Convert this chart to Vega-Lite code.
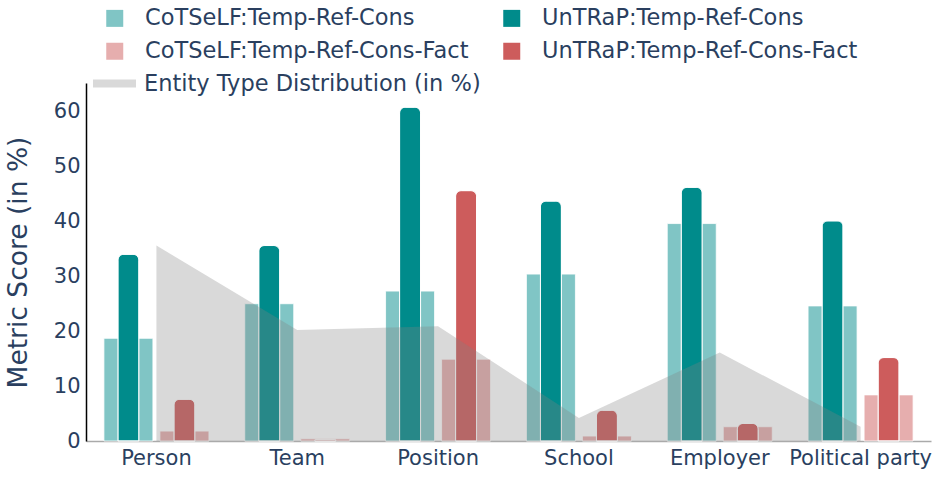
{
  "$schema": "https://vega.github.io/schema/vega-lite/v6.json",
  "width": 845,
  "height": 358,
  "autosize": "none",
  "padding": {"left": 86, "top": 83, "right": 16, "bottom": 36},
  "config": {
    "font": "DejaVu Sans",
    "view": {"stroke": null},
    "axis": {"labelColor": "#2a3f5f", "titleColor": "#2a3f5f", "grid": false, "ticks": false},
    "legend": {"labelColor": "#2a3f5f", "padding": 0}
  },
  "datasets": {
    "bars": [
      {"entity": "Person", "model": "CoTSeLF", "metric": "Temp-Ref-Cons", "series": "CoTSeLF:Temp-Ref-Cons", "score": 18.7},
      {"entity": "Person", "model": "UnTRaP", "metric": "Temp-Ref-Cons", "series": "UnTRaP:Temp-Ref-Cons", "score": 34.0},
      {"entity": "Person", "model": "CoTSeLF", "metric": "Temp-Ref-Cons-Fact", "series": "CoTSeLF:Temp-Ref-Cons-Fact", "score": 1.8},
      {"entity": "Person", "model": "UnTRaP", "metric": "Temp-Ref-Cons-Fact", "series": "UnTRaP:Temp-Ref-Cons-Fact", "score": 7.6},
      {"entity": "Team", "model": "CoTSeLF", "metric": "Temp-Ref-Cons", "series": "CoTSeLF:Temp-Ref-Cons", "score": 25.0},
      {"entity": "Team", "model": "UnTRaP", "metric": "Temp-Ref-Cons", "series": "UnTRaP:Temp-Ref-Cons", "score": 35.6},
      {"entity": "Team", "model": "CoTSeLF", "metric": "Temp-Ref-Cons-Fact", "series": "CoTSeLF:Temp-Ref-Cons-Fact", "score": 0.4},
      {"entity": "Team", "model": "UnTRaP", "metric": "Temp-Ref-Cons-Fact", "series": "UnTRaP:Temp-Ref-Cons-Fact", "score": 0.3},
      {"entity": "Position", "model": "CoTSeLF", "metric": "Temp-Ref-Cons", "series": "CoTSeLF:Temp-Ref-Cons", "score": 27.3},
      {"entity": "Position", "model": "UnTRaP", "metric": "Temp-Ref-Cons", "series": "UnTRaP:Temp-Ref-Cons", "score": 60.8},
      {"entity": "Position", "model": "CoTSeLF", "metric": "Temp-Ref-Cons-Fact", "series": "CoTSeLF:Temp-Ref-Cons-Fact", "score": 14.9},
      {"entity": "Position", "model": "UnTRaP", "metric": "Temp-Ref-Cons-Fact", "series": "UnTRaP:Temp-Ref-Cons-Fact", "score": 45.6},
      {"entity": "School", "model": "CoTSeLF", "metric": "Temp-Ref-Cons", "series": "CoTSeLF:Temp-Ref-Cons", "score": 30.4},
      {"entity": "School", "model": "UnTRaP", "metric": "Temp-Ref-Cons", "series": "UnTRaP:Temp-Ref-Cons", "score": 43.7},
      {"entity": "School", "model": "CoTSeLF", "metric": "Temp-Ref-Cons-Fact", "series": "CoTSeLF:Temp-Ref-Cons-Fact", "score": 0.9},
      {"entity": "School", "model": "UnTRaP", "metric": "Temp-Ref-Cons-Fact", "series": "UnTRaP:Temp-Ref-Cons-Fact", "score": 5.6},
      {"entity": "Employer", "model": "CoTSeLF", "metric": "Temp-Ref-Cons", "series": "CoTSeLF:Temp-Ref-Cons", "score": 39.6},
      {"entity": "Employer", "model": "UnTRaP", "metric": "Temp-Ref-Cons", "series": "UnTRaP:Temp-Ref-Cons", "score": 46.2},
      {"entity": "Employer", "model": "CoTSeLF", "metric": "Temp-Ref-Cons-Fact", "series": "CoTSeLF:Temp-Ref-Cons-Fact", "score": 2.6},
      {"entity": "Employer", "model": "UnTRaP", "metric": "Temp-Ref-Cons-Fact", "series": "UnTRaP:Temp-Ref-Cons-Fact", "score": 3.2},
      {"entity": "Political party", "model": "CoTSeLF", "metric": "Temp-Ref-Cons", "series": "CoTSeLF:Temp-Ref-Cons", "score": 24.6},
      {"entity": "Political party", "model": "UnTRaP", "metric": "Temp-Ref-Cons", "series": "UnTRaP:Temp-Ref-Cons", "score": 40.1},
      {"entity": "Political party", "model": "CoTSeLF", "metric": "Temp-Ref-Cons-Fact", "series": "CoTSeLF:Temp-Ref-Cons-Fact", "score": 8.4},
      {"entity": "Political party", "model": "UnTRaP", "metric": "Temp-Ref-Cons-Fact", "series": "UnTRaP:Temp-Ref-Cons-Fact", "score": 15.2}
    ],
    "dist": [
      {"entity": "Person", "label": "Entity Type Distribution (in %)", "pct": 35.6},
      {"entity": "Team", "label": "Entity Type Distribution (in %)", "pct": 20.2},
      {"entity": "Position", "label": "Entity Type Distribution (in %)", "pct": 20.9},
      {"entity": "School", "label": "Entity Type Distribution (in %)", "pct": 4.2},
      {"entity": "Employer", "label": "Entity Type Distribution (in %)", "pct": 16.1},
      {"entity": "Political party", "label": "Entity Type Distribution (in %)", "pct": 2.6}
    ]
  },
  "encoding": {
    "x": {
      "field": "entity", "type": "nominal",
      "sort": ["Person", "Team", "Position", "School", "Employer", "Political party"],
      "scale": {"paddingInner": 0, "paddingOuter": 0},
      "axis": {"title": null, "labelAngle": 0, "labelFontSize": 21, "labelPadding": 6, "domainColor": "#aaaaaa", "domainWidth": 1.5}
    }
  },
  "layer": [
    {
      "data": {"name": "bars"},
      "transform": [{"filter": "datum.model === 'CoTSeLF'"}],
      "mark": {"type": "bar", "width": 49, "stroke": "white", "strokeWidth": 0.8},
      "encoding": {
        "xOffset": {"field": "metric", "type": "nominal", "sort": ["Temp-Ref-Cons", "Temp-Ref-Cons-Fact"], "scale": {"paddingInner": 0, "paddingOuter": 0.257}},
        "y": {
          "field": "score", "type": "quantitative",
          "scale": {"domain": [0, 65.2], "nice": false},
          "axis": {"title": "Metric Score (in %)", "titleFontSize": 26.5, "titleFontWeight": "normal", "titlePadding": 21, "labelFontSize": 21, "labelPadding": 6, "values": [0, 10, 20, 30, 40, 50, 60], "domainColor": "#000000", "domainWidth": 1.5}
        },
        "color": {
          "field": "series", "type": "nominal",
          "scale": {
            "domain": ["CoTSeLF:Temp-Ref-Cons", "CoTSeLF:Temp-Ref-Cons-Fact", "UnTRaP:Temp-Ref-Cons", "UnTRaP:Temp-Ref-Cons-Fact"],
            "range": ["#80c5c5", "#e6aeae", "#008b8b", "#cd5c5c"]
          },
          "legend": {
            "title": null, "orient": "none", "legendX": 17.5, "legendY": -76, "columns": 2,
            "columnPadding": 32, "rowPadding": 10, "labelFontSize": 22.5, "labelOffset": 19,
            "symbolType": "square", "symbolSize": 289, "symbolStrokeWidth": 0, "symbolOpacity": 1,
            "labelLimit": 500,
            "encode": {"symbols": {"update": {"shape": {"signal": "indexof(datum.value, 'UnTRaP') === 0 ? 'M-1,-0.6Q-1,-1,-0.6,-1H0.6Q1,-1,1,-0.6V0.6Q1,1,0.6,1H-0.6Q-1,1,-1,0.6Z' : 'square'"}}}}
          }
        }
      }
    },
    {
      "data": {"name": "bars"},
      "transform": [{"filter": "datum.model === 'UnTRaP'"}],
      "mark": {"type": "bar", "width": 21, "stroke": "white", "strokeWidth": 1, "cornerRadiusTopLeft": 6, "cornerRadiusTopRight": 6},
      "encoding": {
        "xOffset": {"field": "metric", "type": "nominal", "sort": ["Temp-Ref-Cons", "Temp-Ref-Cons-Fact"], "scale": {"paddingInner": 0, "paddingOuter": 0.257}},
        "y": {"field": "score", "type": "quantitative"},
        "color": {"field": "series", "type": "nominal"}
      }
    },
    {
      "data": {"name": "dist"},
      "mark": {"type": "area", "color": "#808080", "opacity": 0.3},
      "encoding": {
        "y": {"field": "pct", "type": "quantitative"},
        "fill": {
          "field": "label", "type": "nominal",
          "scale": {"range": ["#808080"]},
          "legend": {
            "title": null, "orient": "none", "legendX": 7, "legendY": -21, "labelFontSize": 22.5, "labelOffset": 8,
            "symbolType": "M-1,-0.186H1V0.186H-1Z", "symbolSize": 1849, "symbolOpacity": 0.3, "symbolStrokeWidth": 0, "labelLimit": 500
          }
        }
      }
    }
  ]
}
